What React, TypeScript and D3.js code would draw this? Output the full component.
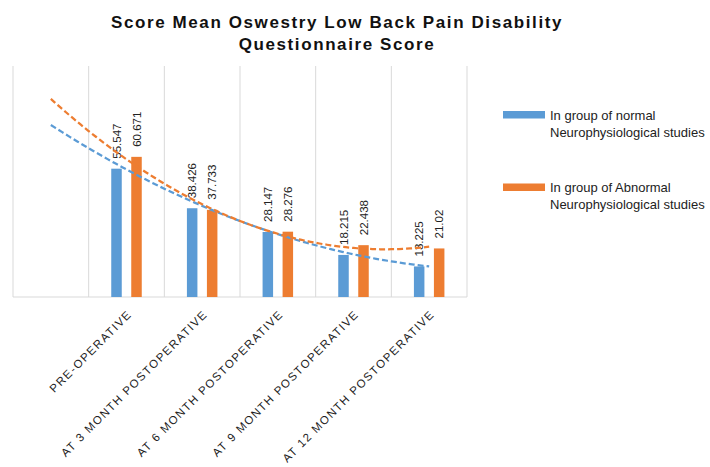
import React, { useEffect, useRef } from "react";
import * as d3 from "d3";

// first slot is an empty category, as in the source chart
const categories = [
  "",
  "PRE-OPERATIVE",
  "AT 3 MONTH POSTOPERATIVE",
  "AT 6 MONTH POSTOPERATIVE",
  "AT 9 MONTH POSTOPERATIVE",
  "AT 12 MONTH POSTOPERATIVE",
];
const normalGroup: (number | null)[] = [null, 55.547, 38.426, 28.147, 18.215, 13.225];
const abnormalGroup: (number | null)[] = [null, 60.671, 37.733, 28.276, 22.438, 21.02];
const normalLabels = ["", "55.547", "38.426", "28.147", "18.215", "13.225"];
const abnormalLabels = ["", "60.671", "37.733", "28.276", "22.438", "21.02"];
const seriesNames = [
  ["In group of normal", "Neurophysiological studies"],
  ["In group of Abnormal", "Neurophysiological studies"],
];
const titleLines = ["Score Mean Oswestry Low Back Pain Disability", "Questionnaire Score"];

const BLUE = "#5B9BD5";
const ORANGE = "#ED7D31";

// least squares quadratic fit, like Excel's polynomial (order 2) trendline
const fitQuadratic = (xs: number[], ys: number[]) => {
  const n = xs.length;
  let s1 = 0, s2 = 0, s3 = 0, s4 = 0, sy = 0, sxy = 0, sx2y = 0;
  xs.forEach((x, i) => {
    const y = ys[i];
    s1 += x; s2 += x * x; s3 += x ** 3; s4 += x ** 4;
    sy += y; sxy += x * y; sx2y += x * x * y;
  });
  const m = [
    [n, s1, s2, sy],
    [s1, s2, s3, sxy],
    [s2, s3, s4, sx2y],
  ];
  for (let c = 0; c < 3; c++) {
    for (let r = c + 1; r < 3; r++) {
      const f = m[r][c] / m[c][c];
      for (let k = c; k < 4; k++) m[r][k] -= f * m[c][k];
    }
  }
  const coef = [0, 0, 0];
  for (let r = 2; r >= 0; r--) {
    let v = m[r][3];
    for (let k = r + 1; k < 3; k++) v -= m[r][k] * coef[k];
    coef[r] = v / m[r][r];
  }
  return (x: number) => coef[0] + coef[1] * x + coef[2] * x * x;
};

const Chart = ({ width = 710, height = 467 }) => {
  const ref = useRef<HTMLDivElement>(null);

  useEffect(() => {
    d3.select(ref.current).selectAll("svg").remove();
    const svg = d3
      .select(ref.current)
      .append("svg")
      .attr("width", width)
      .attr("height", height)
      .style("display", "block");

    const left = 13, right = 467, top = 66, bottom = 297;

    const x = d3.scaleBand().domain(categories.map((d, i) => String(i))).range([left, right]).padding(0);
    const y = d3.scaleLinear().domain([0, 100]).range([bottom, top]);
    const bw = x.bandwidth();
    const barW = 10.5;
    const offset = 10;

    // title
    svg
      .append("g")
      .selectAll("text")
      .data(titleLines)
      .enter()
      .append("text")
      .attr("x", 337)
      .attr("y", (d, i) => 28 + i * 22)
      .attr("text-anchor", "middle")
      .attr("font-family", "Liberation Sans, Arial, sans-serif")
      .attr("font-weight", "bold")
      .attr("font-size", 17)
      .attr("letter-spacing", 1.6)
      .attr("fill", "#111")
      .text((d) => d);

    // vertical gridlines
    const grid = d3.range(categories.length + 1).map((i) => left + i * bw);
    svg
      .append("g")
      .selectAll("line")
      .data(grid)
      .enter()
      .append("line")
      .attr("x1", (d) => d)
      .attr("x2", (d) => d)
      .attr("y1", top)
      .attr("y2", bottom)
      .attr("stroke", "#d9d9d9")
      .attr("stroke-width", 1);

    // x axis line
    svg
      .append("line")
      .attr("x1", left)
      .attr("x2", right)
      .attr("y1", bottom)
      .attr("y2", bottom)
      .attr("stroke", "#d9d9d9")
      .attr("stroke-width", 1);

    const series = [
      { values: normalGroup, labels: normalLabels, color: BLUE, dx: -offset },
      { values: abnormalGroup, labels: abnormalLabels, color: ORANGE, dx: offset },
    ];

    series.forEach((s) => {
      const pts = s.values
        .map((v, i) => ({ v, i }))
        .filter((d) => d.v !== null) as { v: number; i: number }[];
      const cx = (i: number) => (x(String(i)) as number) + bw / 2;

      const g = svg.append("g");
      g.selectAll("rect")
        .data(pts)
        .enter()
        .append("rect")
        .attr("x", (d) => cx(d.i) + s.dx - barW / 2)
        .attr("y", (d) => y(d.v))
        .attr("width", barW)
        .attr("height", (d) => bottom - y(d.v))
        .attr("fill", s.color);

      g.selectAll("text")
        .data(pts)
        .enter()
        .append("text")
        .attr("transform", (d) => `translate(${cx(d.i) + s.dx + 4},${y(d.v) - 10}) rotate(-90)`)
        .attr("font-family", "Liberation Sans, Arial, sans-serif")
        .attr("font-size", 11.5)
        .attr("fill", "#222")
        .text((d) => s.labels[d.i]);
    });

    // trendlines (order 2 polynomial, one period backward)
    series.forEach((s) => {
      const pts = s.values
        .map((v, i) => ({ v, i }))
        .filter((d) => d.v !== null) as { v: number; i: number }[];
      const f = fitQuadratic(pts.map((d) => d.i + 1), pts.map((d) => d.v));
      const xs = d3.range(1, categories.length + 0.001, 0.05);
      const line = d3
        .line<number>()
        .x((t) => left + (t - 0.5) * bw)
        .y((t) => y(f(t)));
      svg
        .append("path")
        .datum(xs)
        .attr("d", line)
        .attr("fill", "none")
        .attr("stroke", s.color)
        .attr("stroke-width", 2.25)
        .attr("stroke-dasharray", "6,3");
    });

    // category labels
    svg
      .append("g")
      .selectAll("text")
      .data(categories)
      .enter()
      .append("text")
      .attr("transform", (d, i) => `translate(${(x(String(i)) as number) + bw / 2 + 6},315) rotate(-45)`)
      .attr("text-anchor", "end")
      .attr("font-family", "Liberation Sans, Arial, sans-serif")
      .attr("font-size", 11.5)
      .attr("letter-spacing", 1.4)
      .attr("fill", "#222")
      .text((d) => d);

    // legend
    const legend = svg.append("g");
    [BLUE, ORANGE].forEach((c, k) => {
      const ly = 111 + k * 72.5;
      legend
        .append("rect")
        .attr("x", 503)
        .attr("y", ly)
        .attr("width", 42)
        .attr("height", 7.5)
        .attr("fill", c);
      seriesNames[k].forEach((t, j) => {
        legend
          .append("text")
          .attr("x", 550)
          .attr("y", ly + 8.5 + j * 17.3)
          .attr("font-family", "Liberation Sans, Arial, sans-serif")
          .attr("font-size", 13)
          .attr("fill", "#222")
          .text(t);
      });
    });
  }, [width, height]);

  return <div ref={ref} style={{ position: "absolute", left: 0, top: 0 }}></div>;
};

export default function App() {
  return <Chart />;
}
